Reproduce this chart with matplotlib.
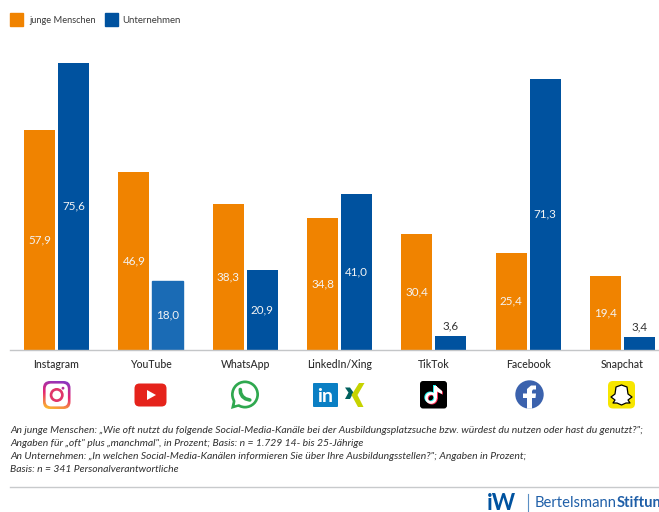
import numpy as np
import matplotlib
matplotlib.use('Agg')
import matplotlib.pyplot as plt
from matplotlib.patches import Circle, FancyBboxPatch, Polygon, Rectangle, Wedge

plt.rcParams['font.family'] = ['Lato', 'DejaVu Sans']

categories = ['Instagram', 'YouTube', 'WhatsApp', 'LinkedIn/Xing', 'TikTok', 'Facebook', 'Snapchat']
junge_menschen = [57.9, 46.9, 38.3, 34.8, 30.4, 25.4, 19.4]
unternehmen = [75.6, 18.0, 20.9, 41.0, 3.6, 71.3, 3.4]
series_names = ['junge Menschen', 'Unternehmen']
footnote = [
    'An junge Menschen: „Wie oft nutzt du folgende Social-Media-Kanäle bei der Ausbildungsplatzsuche bzw. würdest du nutzen oder hast du genutzt?";',
    'Angaben für „oft" plus „manchmal", in Prozent; Basis: n = 1.729 14- bis 25-Jährige',
    'An Unternehmen: „In welchen Social-Media-Kanälen informieren Sie über Ihre Ausbildungsstellen?"; Angaben in Prozent;',
    'Basis: n = 341 Personalverantwortliche',
]

ORANGE = '#f08300'
BLUE = '#00529f'
W, H = 659, 512


def fmt(v):
    return f'{v:.1f}'.replace('.', ',')


fig = plt.figure(figsize=(W / 100, H / 100), dpi=100)

# bars, axes placed so the groups land where they do in the original
ax = fig.add_axes([10 / W, (H - 349.5) / H, 649 / W, 309.5 / H])
x = np.arange(len(categories))
b1 = ax.bar(x - 0.18, junge_menschen, 0.329, color=ORANGE)
b2 = ax.bar(x + 0.18, unternehmen, 0.329, color=BLUE)
b2[1].set_color('#1a6bb5')  # the YouTube bar is lighter in the original
ax.set_xlim(-0.493, 6.387)
ax.set_ylim(0, 81.66)
for s in ['top', 'left', 'right']:
    ax.spines[s].set_visible(False)
ax.spines['bottom'].set_color('#c4c6c8')
ax.spines['bottom'].set_linewidth(1.0)
ax.set_yticks([])
ax.set_xticks(x)
ax.set_xticklabels(categories, fontsize=7.6, color='#2e2e2e', fontweight='medium')
ax.tick_params(axis='x', length=0, pad=7)

for rect, v in zip(list(b1) + list(b2), junge_menschen + unternehmen):
    cx = rect.get_x() + rect.get_width() / 2
    if v < 5:
        ax.text(cx, v + 1.2, fmt(v), ha='center', va='bottom', fontsize=8.4, color='#333333')
    else:
        ax.text(cx, v / 2, fmt(v), ha='center', va='center', fontsize=8.4, color='#f4f4f4')

# overlay in pixel coordinates for legend, icons, footer
ov = fig.add_axes([0, 0, 1, 1], facecolor='none')
ov.set_xlim(0, W)
ov.set_ylim(H, 0)
ov.axis('off')

# legend
ov.add_patch(Rectangle((10, 13), 13, 13, color=ORANGE))
ov.text(29, 20.5, series_names[0], fontsize=6.7, va='center', color='#3a3a3a')
ov.add_patch(Rectangle((105, 13), 13, 13, color=BLUE))
ov.text(122, 20.5, series_names[1], fontsize=6.9, va='center', color='#3a3a3a')


def rbox(x0, y0, w, h, r, **kw):
    p = FancyBboxPatch((x0 + r, y0 + r), w - 2 * r, h - 2 * r,
                       boxstyle=f'round,pad={r},rounding_size={r}', linewidth=0, **kw)
    ov.add_patch(p)
    return p


# Instagram
clip = rbox(43, 381, 27.5, 28, 7, facecolor='none')
grad = np.linspace(0, 1, 64)
gx, gy = np.meshgrid(grad, grad)
t = np.clip(0.8 * gy + 0.2 * (1 - gx), 0, 1)[..., None]
c0, c1, c2 = np.array([0.5, 0.22, 0.8]), np.array([0.9, 0.15, 0.45]), np.array([1.0, 0.78, 0.15])
img = np.where(t < 0.5, c0 + (c1 - c0) * t * 2, c1 + (c2 - c1) * (t - 0.5) * 2)
im = ov.imshow(img, extent=(43, 70.5, 409, 381), aspect='auto', zorder=2)
im.set_clip_path(clip)
rbox(45.6, 383.6, 22.3, 22.8, 5.5, facecolor='white', zorder=3)
ov.add_patch(Circle((56.7, 395), 7, facecolor='#e0366a', zorder=4))
ov.add_patch(Circle((56.7, 395), 4.3, facecolor='white', zorder=5))
ov.add_patch(Circle((63, 388.2), 1.4, facecolor='#b5309a', zorder=5))
ov.set_xlim(0, W)
ov.set_ylim(H, 0)

# YouTube
rbox(134.5, 383.5, 32, 23, 5, facecolor='#e5231b')
ov.add_patch(Polygon([[147, 390], [147, 400], [156, 395]], facecolor='white'))

# WhatsApp
ov.add_patch(Circle((245, 394.5), 14, facecolor='#2fa84f'))
ov.add_patch(Polygon([[231, 409], [233.5, 398], [241, 406]], facecolor='#2fa84f'))
ov.add_patch(Circle((245, 394.5), 11.3, facecolor='white'))
ov.add_patch(Polygon([[234.8, 405.2], [235.8, 399], [240.5, 403.8]], facecolor='white'))
ov.plot([240.3, 240.6, 242.5, 245.5, 249.8], [389.5, 393, 396.5, 398.8, 400],
        color='#2fa84f', lw=2.6, solid_capstyle='round')

# LinkedIn + Xing
rbox(313, 383, 25, 24, 1, facecolor='#0a7fc4')
ov.text(325, 396, 'in', fontsize=14, fontweight='bold', color='white', ha='center', va='center')
ov.add_patch(Polygon([[345, 387.5], [350, 387.5], [353.5, 392.5], [350, 399], [345, 399], [348.5, 392.5]], facecolor='#00605e'))
ov.add_patch(Polygon([[359, 383], [364.5, 383], [357.5, 395], [363.5, 407], [358, 407], [351.5, 395]], facecolor='#c6d300'))

# TikTok
rbox(420, 381, 27, 27.5, 3, facecolor='black')
for col, dx, dy in [('#25f4ee', -0.9, -0.7), ('#fe2c55', 0.9, 0.7), ('white', 0, 0)]:
    ov.add_patch(Wedge((431 + dx, 398 + dy), 5.8, 0, 360, width=2.6, facecolor=col))
    ov.add_patch(Rectangle((434 + dx, 386 + dy), 2.7, 12, facecolor=col))
    ov.add_patch(Polygon([[436 + dx, 386 + dy], [442 + dx, 391 + dy], [442 + dx, 394 + dy], [436 + dx, 391 + dy]], facecolor=col))

# Facebook
ov.add_patch(Circle((529.5, 394.5), 14.2, facecolor='#3b62ad'))
ov.add_patch(Polygon([[527, 408.7], [527, 398], [523, 398], [523, 393.5], [527, 393.5], [527, 389],
                      [531, 385.5], [536, 385.5], [536, 389.5], [533, 389.5], [532, 391], [532, 393.5],
                      [536, 393.5], [535.5, 398], [532, 398], [532, 408.7]], facecolor='white'))

# Snapchat
rbox(608, 381, 27, 27.5, 5, facecolor='#f7e600')
ghost = Polygon([[621.5, 385], [627, 387], [628, 394], [632, 397], [628, 400], [630, 403], [626, 403],
                 [621.5, 405], [617, 403], [613, 403], [615, 400], [611, 397], [615, 394], [616, 387]],
                facecolor='white', edgecolor='black', linewidth=0.9, joinstyle='round')
ov.add_patch(ghost)

# footnote
for i, line in enumerate(footnote):
    ov.text(10, 430.5 + i * 12.85, line, fontsize=7.45, style='italic', va='center', color='#303030')

# footer rule and logos
ov.plot([10, 659], [486.5, 486.5], color='#c8cacc', lw=1)
ov.text(487, 503, 'iW', fontsize=16, fontweight='bold', color='#00529f', va='center', ha='left')
ov.plot([528, 528], [494, 512], color='#5b8fc4', lw=0.8)
t1 = ov.text(535, 503, 'Bertelsmann', fontsize=10.6, color='#1f5fa8', va='center', ha='left')
fig.canvas.draw()
bb = t1.get_window_extent()
ov.text(535 + bb.width, 503, 'Stiftung', fontsize=10.6, fontweight='bold', color='#1f5fa8', va='center', ha='left')

fig.savefig('out.png', dpi=100)
